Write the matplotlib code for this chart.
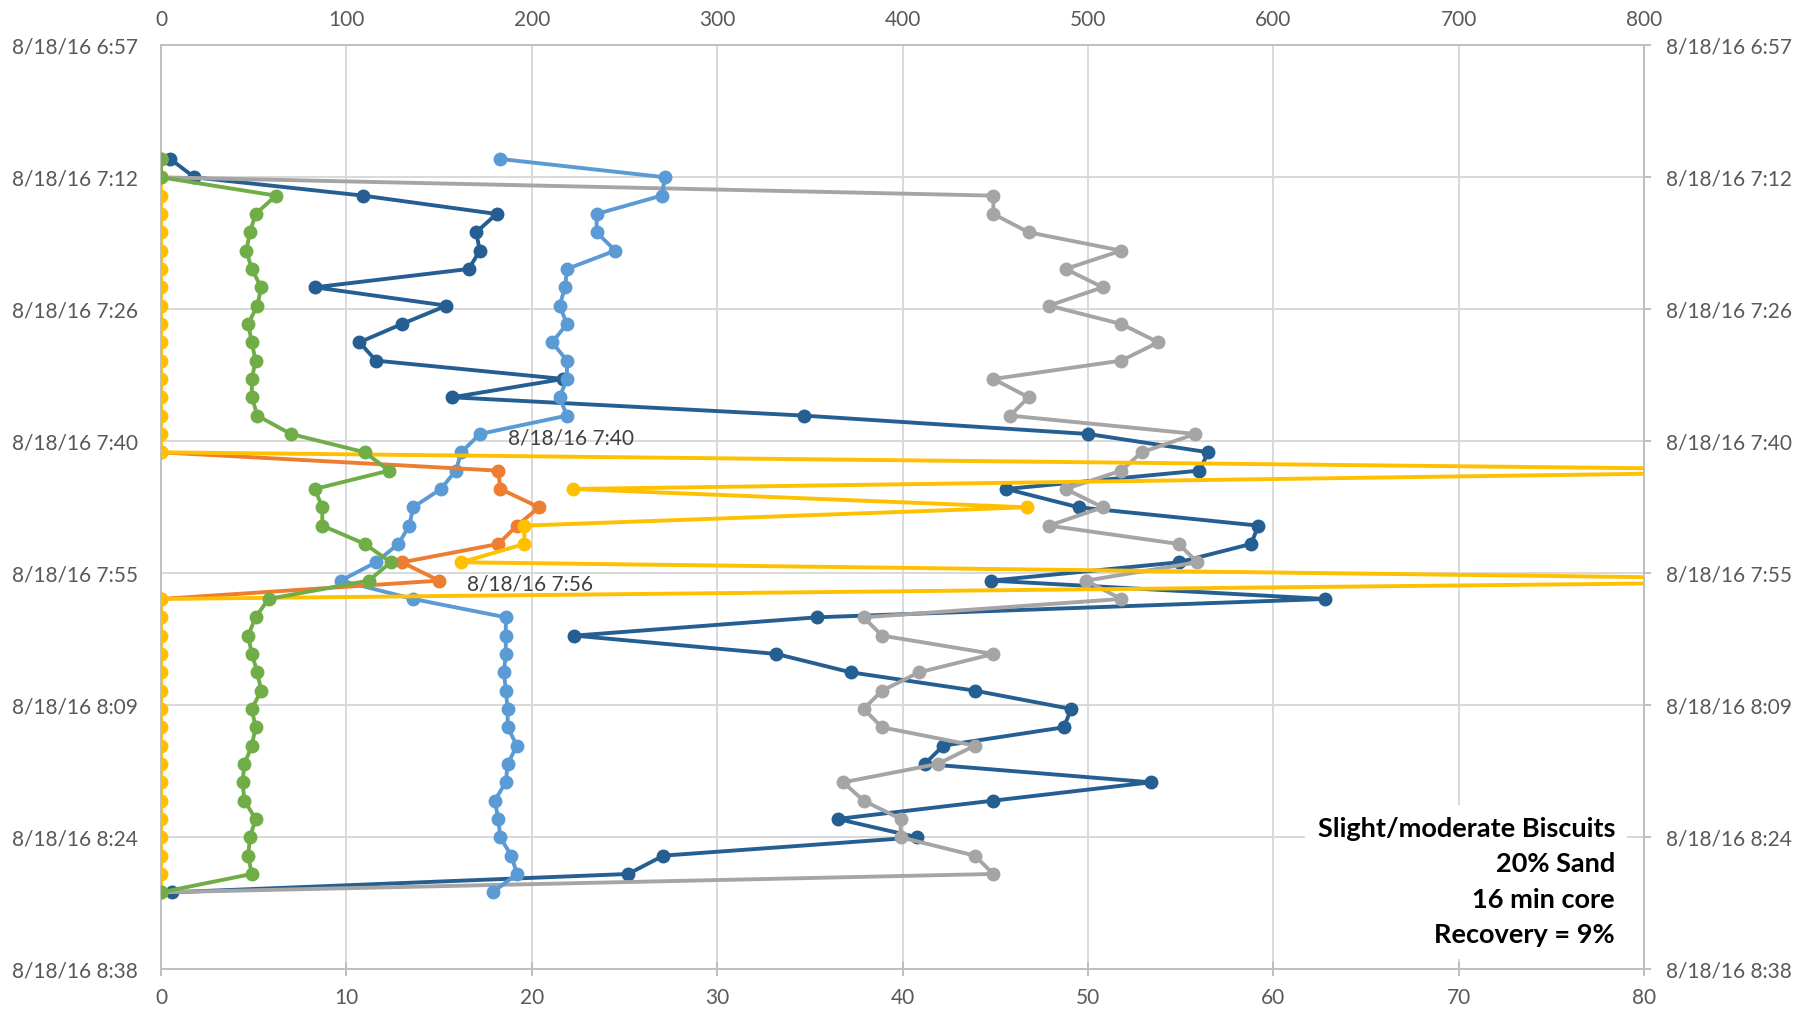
import numpy as np
import matplotlib.pyplot as plt
from matplotlib.ticker import FixedLocator, FuncFormatter

plt.rcParams['font.family'] = ['Lato', 'DejaVu Sans']

# readings on 8/18/16, one every two minutes
times = ["7:10", "7:12", "7:14", "7:16", "7:18", "7:20", "7:22", "7:24", "7:26", "7:28",
         "7:30", "7:32", "7:34", "7:36", "7:38", "7:40", "7:42", "7:44", "7:46", "7:48",
         "7:50", "7:52", "7:54", "7:56", "7:58", "8:00", "8:02", "8:04", "8:06", "8:08",
         "8:10", "8:12", "8:14", "8:16", "8:18", "8:20", "8:22", "8:24", "8:26", "8:28",
         "8:30"]

dark_blue = [0.5, 1.8, 10.9, 18.1, 17.0, 17.2, 16.6, 8.3, 15.4, 13.0,
             10.7, 11.6, 21.7, 15.7, 34.7, 50.0, 56.5, 56.0, 45.6, 49.5,
             59.2, 58.8, 54.9, 44.8, 62.8, 35.4, 22.3, 33.2, 37.2, 43.9,
             49.1, 48.7, 42.2, 41.2, 53.4, 44.9, 36.5, 40.8, 27.1, 25.2,
             0.6]
light_blue = [18.3, 27.2, 27.0, 23.5, 23.5, 24.5, 21.9, 21.8, 21.5, 21.9,
              21.1, 21.9, 21.9, 21.5, 21.9, 17.2, 16.2, 15.9, 15.1, 13.6,
              13.4, 12.8, 11.6, 9.7, 13.6, 18.6, 18.6, 18.6, 18.5, 18.6,
              18.7, 18.7, 19.2, 18.7, 18.6, 18.0, 18.2, 18.3, 18.9, 19.2,
              17.9]
gray = [0, 0, 44.9, 44.9, 46.8, 51.8, 48.8, 50.8, 47.9, 51.8,
        53.8, 51.8, 44.9, 46.8, 45.8, 55.8, 52.9, 51.8, 48.8, 50.8,
        47.9, 54.9, 55.9, 49.9, 51.8, 37.9, 38.9, 44.9, 40.9, 38.9,
        37.9, 38.9, 43.9, 41.9, 36.8, 37.9, 39.9, 39.9, 43.9, 44.9,
        0]
orange = [None, None, None, None, None, None, None, None, None, None,
          None, None, None, None, None, None, 0, 18.2, 18.3, 20.4,
          19.2, 18.2, 13.0, 15.0, 0, None, None, None, None, None,
          None, None, None, None, None, None, None, None, None, None,
          None]
yellow = [0, 0, 0, 0, 0, 0, 0, 0, 0, 0,
          0, 0, 0, 0, 0, 0, 0, 92, 22.2, 46.7,
          19.6, 19.6, 16.2, 95, 0, 0, 0, 0, 0, 0,
          0, 0, 0, 0, 0, 0, 0, 0, 0, 0,
          0]
green = [0, 0, 6.2, 5.1, 4.8, 4.6, 4.9, 5.4, 5.2, 4.7,
         4.9, 5.1, 4.9, 4.9, 5.2, 7.0, 11.0, 12.3, 8.3, 8.7,
         8.7, 11.0, 12.4, 11.2, 5.8, 5.1, 4.7, 4.9, 5.2, 5.4,
         4.9, 5.1, 4.9, 4.5, 4.4, 4.5, 5.1, 4.8, 4.7, 4.9,
         0]

x_ticks = [0, 10, 20, 30, 40, 50, 60, 70, 80]
top_ticks = [0, 100, 200, 300, 400, 500, 600, 700, 800]
y_ticks = [0.29, 0.30, 0.31, 0.32, 0.33, 0.34, 0.35, 0.36]  # day fractions

note = "Slight/moderate Biscuits\n20% Sand\n16 min core\nRecovery = 9%"


def day_frac(t):
    h, m = t.split(":")
    return (int(h) * 60 + int(m)) / 1440.0


def time_label(v, pos=None):
    mins = int(np.floor(v * 1440 + 1e-6))
    return "8/18/16 %d:%02d" % (mins // 60, mins % 60)


y = np.array([day_frac(t) for t in times])

W, H = 1814, 1013
fig = plt.figure(figsize=(W / 100, H / 100), dpi=100)
left, right, top, bottom = 161, 1644, 45.3, 969.3
ax = fig.add_axes([left / W, 1 - bottom / H, (right - left) / W, (bottom - top) / H])

axis_col = "#BFBFBF"
label_col = "#595959"

series = [
    (dark_blue, "#255E91", 2),
    (gray, "#A5A5A5", 3),
    (light_blue, "#5B9BD5", 4),
    (orange, "#ED7D31", 5),
    (yellow, "#FFC000", 6),
    (green, "#70AD47", 7),
]
for vals, col, z in series:
    ax.plot(np.array(vals, dtype=float), y, "-o", color=col, lw=2.8, ms=9, zorder=z)

ax.set_xlim(0, 80)
ax.set_ylim(0.36, 0.29)
ax.xaxis.set_major_locator(FixedLocator(x_ticks))
ax.yaxis.set_major_locator(FixedLocator(y_ticks))
ax.yaxis.set_major_formatter(FuncFormatter(time_label))
ax.set_axisbelow(True)
ax.grid(True, color="#D9D9D9", lw=1.4)

for sp in ax.spines.values():
    sp.set_color(axis_col)
    sp.set_linewidth(1.4)

ax.tick_params(axis="x", direction="inout", length=9.5, width=1.4, color=axis_col,
               labelsize=15, labelcolor=label_col, pad=9)
ax.tick_params(axis="y", length=0, labelsize=15, labelcolor=label_col, pad=16.5)

top_ax = ax.secondary_xaxis("top", functions=(lambda v: v * 10, lambda v: v / 10))
top_ax.xaxis.set_major_locator(FixedLocator(top_ticks))
top_ax.tick_params(length=0, labelsize=15, labelcolor=label_col, pad=11)
top_ax.spines["top"].set_color(axis_col)
top_ax.spines["top"].set_linewidth(1.4)

right_ax = ax.secondary_yaxis("right")
right_ax.yaxis.set_major_locator(FixedLocator(y_ticks))
right_ax.yaxis.set_major_formatter(FuncFormatter(time_label))
right_ax.tick_params(direction="inout", length=9.5, width=1.4, color=axis_col,
                     labelsize=15, labelcolor=label_col, pad=10.8)
right_ax.spines["right"].set_color(axis_col)
right_ax.spines["right"].set_linewidth(1.4)

# data labels showing the time of the point
for vals, k in [(light_blue, 15), (orange, 23)]:
    ax.annotate(time_label(y[k]), (vals[k], y[k]), xytext=(20, -3),
                textcoords="offset points", ha="left", va="center",
                fontsize=15, color="#404040", zorder=8)

ax.text(0.9805, 0.024, note, transform=ax.transAxes, ha="right", va="bottom",
        multialignment="right", fontsize=19.5, fontweight="bold", color="black",
        linespacing=1.57, zorder=9,
        bbox=dict(boxstyle="square,pad=0.45", fc="white", ec="none"))

fig.savefig("out.png", dpi=100)
